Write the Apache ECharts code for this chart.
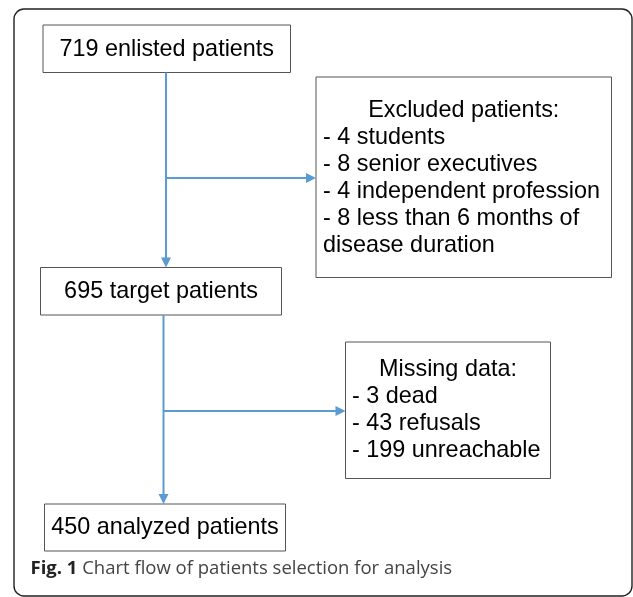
<!DOCTYPE html>
<html>
<head>
<meta charset="utf-8">
<script src="https://cdn.jsdelivr.net/npm/echarts@6/dist/echarts.min.js"></script>
<style>html,body{margin:0;padding:0;background:#fff;}#chart{width:633px;height:597px;}</style>
</head>
<body>
<div id="chart"></div>
<script>
// ---- content ----
const mainBoxLabels = ['719 enlisted patients', '695 target patients', '450 analyzed patients'];
const excludedTitle = 'Excluded patients:';
const excludedItems = ['- 4 students', '- 8 senior executives', '- 4 independent profession', '- 8 less than 6 months of', 'disease duration'];
const missingTitle = 'Missing data:';
const missingItems = ['- 3 dead', '- 43 refusals', '- 199 unreachable'];
const captionLabel = 'Fig. 1';
const captionText = 'Chart flow of patients selection for analysis';

// ---- layout (in the 633 x 597 canvas space of the hidden axes) ----
const mainBoxRects = [[43, 25, 290.5, 72.5], [40.5, 267.5, 281.5, 315], [44.5, 504, 285.5, 551]];
const sideBoxRects = [[316, 77, 611.5, 277.5], [345.5, 342, 550.5, 478.5]];
const sideTextLeft = [323, 352];
const sideFirstBaseline = [118.3, 376.7];
const lineStep = 26.9;
const flows = [
  { x: 166, y0: 72.5, y1: 267.5, branchY: 178, branchX: 316 },
  { x: 163.5, y0: 315, y1: 504, branchY: 411, branchX: 345.5 }
];
const frameRect = [14, 9, 632, 596];
const captionPos = [30.5, 575];

const FS = 23.4;
const FAMILY = 'Liberation Sans';
const BLUE = '#5b9bd5';
const mid = (baseline) => baseline - 0.31 * FS;
const txt = (text, align) => ({ text, fontSize: FS, fontFamily: FAMILY, fill: '#000', align, verticalAlign: 'middle' });

function rectShape(api, r) {
  const p0 = api.coord([r[0], r[1]]);
  const p1 = api.coord([r[2], r[3]]);
  return { x: p0[0], y: p0[1], width: p1[0] - p0[0], height: p1[1] - p0[1] };
}

const chart = echarts.init(document.getElementById('chart'), null, { renderer: 'canvas' });

const option = {
  animation: false,
  grid: { left: 0, right: 0, top: 0, bottom: 0 },
  xAxis: { type: 'value', min: 0, max: 633, show: false },
  yAxis: { type: 'value', min: 0, max: 597, inverse: true, show: false },
  series: [
    {
      type: 'custom', coordinateSystem: 'cartesian2d', silent: true,
      data: [0],
      renderItem: (params, api) => {
        const s = rectShape(api, frameRect);
        s.r = 10;
        return { type: 'rect', shape: s, style: { fill: 'none', stroke: '#222', lineWidth: 1.4 } };
      }
    },
    {
      type: 'custom', coordinateSystem: 'cartesian2d', silent: true,
      data: mainBoxLabels.map((t, i) => i),
      renderItem: (params, api) => {
        const i = params.dataIndex;
        const r = mainBoxRects[i];
        const s = rectShape(api, r);
        const c = api.coord([(r[0] + r[2]) / 2, (r[1] + r[3]) / 2]);
        return {
          type: 'group',
          children: [
            { type: 'rect', shape: s, style: { fill: '#fff', stroke: '#555', lineWidth: 1 } },
            { type: 'text', x: c[0], y: c[1] + 0.5, style: txt(mainBoxLabels[i], 'center') }
          ]
        };
      }
    },
    {
      type: 'custom', coordinateSystem: 'cartesian2d', silent: true,
      data: [0, 1],
      renderItem: (params, api) => {
        const i = params.dataIndex;
        const r = sideBoxRects[i];
        const title = i === 0 ? excludedTitle : missingTitle;
        const items = i === 0 ? excludedItems : missingItems;
        const s = rectShape(api, r);
        const children = [{ type: 'rect', shape: s, style: { fill: '#fff', stroke: '#555', lineWidth: 1 } }];
        const tc = api.coord([(r[0] + r[2]) / 2, mid(sideFirstBaseline[i])]);
        children.push({ type: 'text', x: tc[0], y: tc[1], style: txt(title, 'center') });
        items.forEach((t, k) => {
          const p = api.coord([sideTextLeft[i], mid(sideFirstBaseline[i] + (k + 1) * lineStep)]);
          children.push({ type: 'text', x: p[0], y: p[1], style: txt(t, 'left') });
        });
        return { type: 'group', children };
      }
    },
    {
      type: 'custom', coordinateSystem: 'cartesian2d', silent: true,
      data: flows.map((f, i) => i),
      renderItem: (params, api) => {
        const f = flows[params.dataIndex];
        const a = api.coord([f.x, f.y0]);
        const b = api.coord([f.x, f.y1]);
        const bs = api.coord([f.x, f.branchY]);
        const be = api.coord([f.branchX, f.branchY]);
        const L = 10, H = 5;
        const ls = { stroke: BLUE, lineWidth: 2 };
        return {
          type: 'group',
          children: [
            { type: 'line', shape: { x1: a[0], y1: a[1], x2: b[0], y2: b[1] - L + 1 }, style: ls },
            { type: 'polygon', shape: { points: [[b[0], b[1]], [b[0] - H, b[1] - L], [b[0] + H, b[1] - L]] }, style: { fill: BLUE } },
            { type: 'line', shape: { x1: bs[0], y1: bs[1], x2: be[0] - L + 1, y2: be[1] }, style: ls },
            { type: 'polygon', shape: { points: [[be[0], be[1]], [be[0] - L, be[1] - H], [be[0] - L, be[1] + H]] }, style: { fill: BLUE } }
          ]
        };
      }
    },
    {
      type: 'custom', coordinateSystem: 'cartesian2d', silent: true,
      data: [0],
      renderItem: (params, api) => {
        const p = api.coord([captionPos[0], captionPos[1] - 6.5]);
        return {
          type: 'text', x: p[0], y: p[1],
          style: {
            text: '{b|' + captionLabel + '} {r|' + captionText + '}',
            align: 'left', verticalAlign: 'middle',
            fontSize: 18.5, fontFamily: 'Open Sans',
            rich: {
              b: { fontSize: 18.5, fontFamily: 'Open Sans', fontWeight: 'bold', fill: '#222' },
              r: { fontSize: 18.5, fontFamily: 'Open Sans', fill: '#444' }
            }
          }
        };
      }
    }
  ]
};
chart.setOption(option);
</script>
</body>
</html>
